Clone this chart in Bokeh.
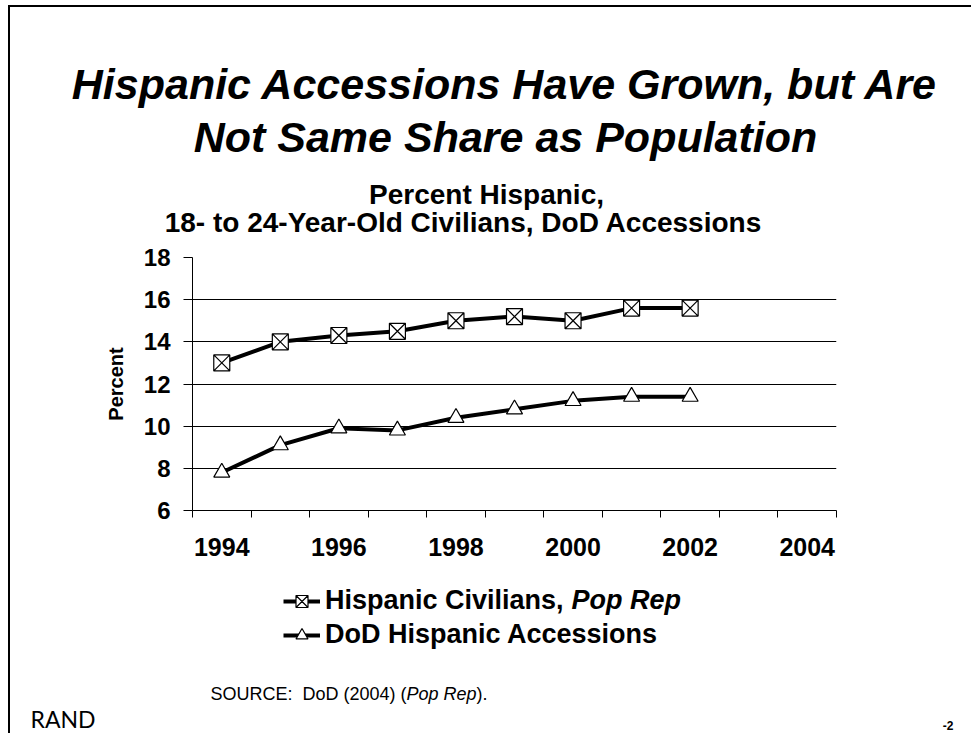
from bokeh.plotting import figure
from bokeh.models import Range1d, Label, FixedTicker, Legend, LegendItem
from bokeh.embed import file_html
from bokeh.resources import INLINE

# ---- data ----
years = [1994, 1995, 1996, 1997, 1998, 1999, 2000, 2001, 2002]
civilians = [13.0, 14.0, 14.3, 14.5, 15.0, 15.2, 15.0, 15.6, 15.6]
accessions = [7.8, 9.1, 9.9, 9.8, 10.4, 10.8, 11.2, 11.4, 11.4]
x_tick_years = [1994, 1996, 1998, 2000, 2002, 2004]
y_ticks = [6, 8, 10, 12, 14, 16, 18]
title_lines = ["Hispanic Accessions Have Grown, but Are", "Not Same Share as Population"]
subtitle_lines = ["Percent Hispanic,", "18- to 24-Year-Old Civilians, DoD Accessions"]
series_labels = ["Hispanic Civilians,", "DoD Hispanic Accessions"]

FONT = "Liberation Sans"

# page geometry (screenshot pixel coordinates)
OX, OY = 10, 7            # canvas origin on the page (css margin + border)
W = 963
Y_SPLIT1, Y_SPLIT2, Y_END = 245, 578, 735
FL, FR, FT, FB = 192, 836, 259, 512   # plot frame on the page


def frame_styles(first=False):
    s = {"margin-left": "8px", "border-left": "2px solid black"}
    if first:
        s.update({"margin-top": "5px", "border-top": "2px solid black"})
    return s


def blank(y0, y1, first=False):
    f = figure(width=W, height=y1 - y0, output_backend="svg", toolbar_location=None,
               title=None, x_range=Range1d(OX, OX + W), y_range=Range1d(y1, y0),
               x_axis_location=None, y_axis_location=None, min_border=0)
    f.grid.visible = False
    f.outline_line_color = None
    f.background_fill_color = "white"
    f.border_fill_color = "white"
    f.styles = frame_styles(first)
    return f


def lab(f, x, y, text, size, style="normal", align="left", baseline="alphabetic", font=FONT):
    f.add_layout(Label(x=x, y=y, text=text, text_font=font, text_font_style=style,
                       text_font_size=size, text_align=align, text_baseline=baseline,
                       text_color="black"))


# ---------- top: titles ----------
top = blank(OY, Y_SPLIT1, first=True)
lab(top, 505, 83, title_lines[0], "43px", "bold italic", "center")
lab(top, 505, 136, title_lines[1], "43px", "bold italic", "center")
lab(top, 486, 194, subtitle_lines[0], "28px", "bold", "center")
lab(top, 463, 222, subtitle_lines[1], "28px", "bold", "center")

# ---------- main chart ----------
p = figure(width=W, height=Y_SPLIT2 - Y_SPLIT1, output_backend="svg", toolbar_location=None,
           title=None, x_range=Range1d(1993.5, 2004.5), y_range=Range1d(6, 18),
           min_border_left=FL - OX, min_border_right=(OX + W) - FR,
           min_border_top=FT - Y_SPLIT1, min_border_bottom=Y_SPLIT2 - FB)
p.styles = frame_styles()
p.outline_line_color = None
p.background_fill_color = "white"
p.border_fill_color = "white"

p.xgrid.grid_line_color = None
p.ygrid.grid_line_color = "black"
p.ygrid.grid_line_width = 1
p.ygrid.ticker = FixedTicker(ticks=y_ticks)

ya = p.yaxis[0]
ya.ticker = FixedTicker(ticks=y_ticks)
ya.major_tick_out = 9
ya.major_tick_in = 0
ya.minor_tick_out = 0
ya.minor_tick_in = 0
ya.axis_line_color = "black"
ya.major_tick_line_color = "black"
ya.major_label_standoff = 13
ya.major_label_text_font = FONT
ya.major_label_text_font_style = "bold"
ya.major_label_text_font_size = "24px"
ya.major_label_text_color = "black"
ya.axis_label = "Percent"
ya.axis_label_text_font = FONT
ya.axis_label_text_font_style = "bold"
ya.axis_label_text_font_size = "20px"
ya.axis_label_text_color = "black"
ya.axis_label_standoff = 14

xa = p.xaxis[0]
xa.ticker = FixedTicker(ticks=x_tick_years, minor_ticks=[y - 0.5 for y in range(1994, 2006)])
xa.major_label_overrides = {y: str(y) for y in x_tick_years}
xa.major_tick_out = 0
xa.major_tick_in = 0
xa.minor_tick_out = 7
xa.minor_tick_in = 0
xa.minor_tick_line_color = "black"
xa.axis_line_color = "black"
xa.major_label_standoff = 20
xa.major_label_text_font = FONT
xa.major_label_text_font_style = "bold"
xa.major_label_text_font_size = "25px"
xa.major_label_text_color = "black"

line_kw = dict(line_width=4, line_color="black")
m1_kw = dict(marker="square_x", size=16, fill_color="white", line_color="black", line_width=1.2)
m2_kw = dict(marker="triangle", size=16, fill_color="white", line_color="black", line_width=1.2)

p.line(years, civilians, **line_kw)
p.scatter(years, civilians, **m1_kw)
p.line(years, accessions, **line_kw)
p.scatter(years, accessions, **m2_kw)

# ---------- bottom: legend, source, footer ----------
bot = blank(Y_SPLIT2, Y_END)
# legend keys: same series and styles (their marks fall outside this panel's page range)
k1 = bot.line(years, civilians, **line_kw)
k1m = bot.scatter(years, civilians, **m1_kw)
k2 = bot.line(years, accessions, **line_kw)
k2m = bot.scatter(years, accessions, **m2_kw)

LEG_X, LEG_TOP, ROW_H, SP = 283, 589, 30, 3
legend = Legend(items=[LegendItem(label=series_labels[0], renderers=[k1, k1m]),
                       LegendItem(label=series_labels[1], renderers=[k2, k2m])],
                location=(LEG_X - OX, Y_END - (LEG_TOP + 2 * ROW_H + SP)),
                orientation="vertical", padding=0, margin=0, spacing=SP,
                glyph_width=37, glyph_height=ROW_H, label_standoff=5, label_height=ROW_H,
                border_line_color=None, background_fill_alpha=0,
                label_text_font=FONT, label_text_font_style="bold",
                label_text_font_size="27px", label_text_color="black")
bot.add_layout(legend)
lab(bot, LEG_X + 37 + 5 + 9.115 * 27, LEG_TOP + ROW_H / 2 - 3, "Pop Rep", "27px",
    "bold italic", baseline="middle")

# source line
SRC_Y = 695
lab(bot, 210, SRC_Y, "SOURCE:", "18px")
lab(bot, 302, SRC_Y, "DoD (2004) (", "18px")
lab(bot, 302 + 5.779 * 18, SRC_Y, "Pop Rep", "18px", "italic")
lab(bot, 302 + (5.779 + 3.891) * 18, SRC_Y, ").", "18px")

# footer
lab(bot, 30, 720, "RAND", "23px", font="Lato")
lab(bot, 953, 727, "-2", "12px", "bold", "right")

open("out.html", "w").write(file_html([top, p, bot], INLINE))
